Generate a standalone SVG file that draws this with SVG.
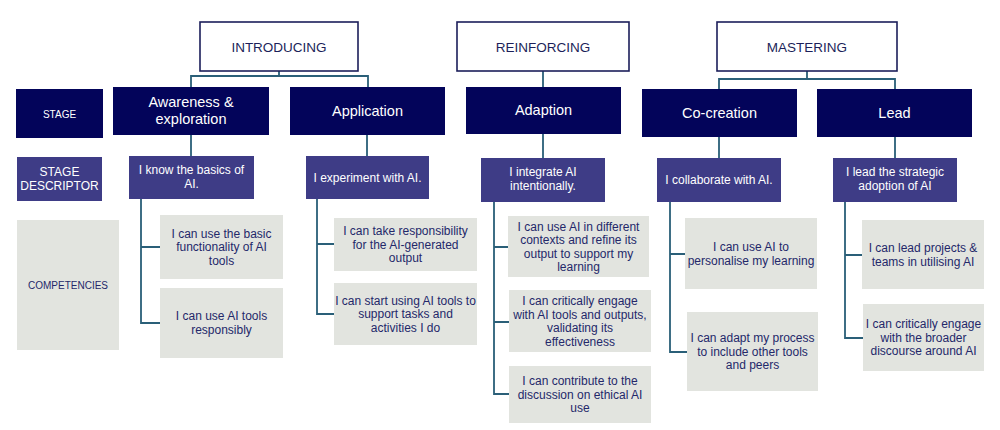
<svg xmlns="http://www.w3.org/2000/svg" width="1000" height="430" viewBox="0 0 1000 430">
<style>
text{font-family:"Liberation Sans",Arial,sans-serif;text-anchor:middle}
.hdr rect{fill:#fff;stroke:#1c1f5a;stroke-width:1.6}
.hdr text{font-size:13.5px;fill:#1c1f5a}
.stg rect{fill:#03045a}
.stg text{fill:#fff;font-size:14.5px}
.lbl text{fill:#fff;font-size:10px}
.dsc rect{fill:#3e3c86}
.dsc text{fill:#fff;font-size:12px}
.cmp rect{fill:#e2e4df}
.cmp text{fill:#24286a;font-size:12px}
.side rect{fill:#e2e4df}
.side text{fill:#24286a;font-size:10px}
.conn path{fill:none;stroke:#2a5f78;stroke-width:1.8}
</style>
<rect width="1000" height="430" fill="#fff"/>
<g class="conn" id="connectors">
<path d="M279 71V76M191 87V76H368V87"/>
<path d="M543 71V87"/>
<path d="M807 71V79M719 89V79H895V89"/>
<path d="M191 135V156M367 135V156M543 134V158M719 137V158M895 137V158"/>
<path d="M141 199V323H160M141 247H160"/>
<path d="M317 199V314H334M317 244H334"/>
<path d="M494 202V394H509M494 247H508M494 322H509"/>
<path d="M670 202V352H687M670 254H685"/>
<path d="M845 202V338H863M845 255H862"/>
</g>
<g class="hdr" id="introducing"><rect x="200" y="22" width="158" height="49"/><text x="279" y="51.5">INTRODUCING</text></g>
<g class="hdr" id="reinforcing"><rect x="457" y="22" width="172" height="49"/><text x="543" y="51.5">REINFORCING</text></g>
<g class="hdr" id="mastering"><rect x="717" y="22" width="180" height="49"/><text x="807" y="51.5">MASTERING</text></g>

<g class="stg lbl" id="stage-label"><rect x="16" y="89" width="87" height="49"/><text x="59.5" y="117.5">STAGE</text></g>
<g class="lbl dsc" id="descriptor-label"><rect x="17" y="157" width="85" height="44"/><text x="59.5" y="176">STAGE</text><text x="59.5" y="189.5">DESCRIPTOR</text></g>
<g class="side" id="competencies-label"><rect x="17" y="220" width="102" height="130"/><text x="68" y="288.5">COMPETENCIES</text></g>

<g class="stg" id="awareness"><rect x="113" y="87" width="156" height="48"/><text x="191" y="107">Awareness &amp;</text><text x="191" y="123.5">exploration</text></g>
<g class="stg" id="application"><rect x="290" y="87" width="155" height="48"/><text x="367.5" y="115.5">Application</text></g>
<g class="stg" id="adaption"><rect x="466" y="87" width="155" height="47"/><text x="543.5" y="115">Adaption</text></g>
<g class="stg" id="co-creation"><rect x="642" y="89" width="155" height="48"/><text x="719.5" y="117.5">Co-creation</text></g>
<g class="stg" id="lead"><rect x="817" y="89" width="155" height="48"/><text x="894.5" y="117.5">Lead</text></g>

<g class="dsc" id="d-know"><rect x="129" y="156" width="125" height="43"/><text x="191.5" y="174">I know the basics of</text><text x="191.5" y="188">AI.</text></g>
<g class="dsc" id="d-experiment"><rect x="306" y="156" width="123" height="43"/><text x="367.5" y="181.5">I experiment with AI.</text></g>
<g class="dsc" id="d-integrate"><rect x="481" y="158" width="124" height="44"/><text x="543" y="176">I integrate AI</text><text x="543" y="190">intentionally.</text></g>
<g class="dsc" id="d-collaborate"><rect x="657" y="158" width="124" height="44"/><text x="719" y="183.5">I collaborate with AI.</text></g>
<g class="dsc" id="d-strategic"><rect x="833" y="158" width="124" height="44"/><text x="895" y="176">I lead the strategic</text><text x="895" y="190">adoption of AI</text></g>

<g class="cmp" id="c-intro-1"><rect x="160" y="215" width="123" height="64"/><text x="221.5" y="237.5">I can use the basic</text><text x="221.5" y="251">functionality of AI</text><text x="221.5" y="264.5">tools</text></g>
<g class="cmp" id="c-intro-2"><rect x="160" y="288" width="123" height="70"/><text x="221.5" y="320">I can use AI tools</text><text x="221.5" y="333.5">responsibly</text></g>

<g class="cmp" id="c-app-1"><rect x="334" y="218" width="143" height="53"/><text x="405.5" y="235">I can take responsibility</text><text x="405.5" y="248.5">for the AI-generated</text><text x="405.5" y="262">output</text></g>
<g class="cmp" id="c-app-2"><rect x="334" y="283" width="143" height="62"/><text x="405.5" y="304.5">I can start using AI tools to</text><text x="405.5" y="318">support tasks and</text><text x="405.5" y="331.5">activities I do</text></g>

<g class="cmp" id="c-adapt-1"><rect x="508" y="216" width="141" height="61"/><text x="578.5" y="230.5">I can use AI in different</text><text x="578.5" y="244">contexts and refine its</text><text x="578.5" y="257.5">output to support my</text><text x="578.5" y="271">learning</text></g>
<g class="cmp" id="c-adapt-2"><rect x="509" y="290" width="142" height="62"/><text x="580" y="305">I can critically engage</text><text x="580" y="318.5">with AI tools and outputs,</text><text x="580" y="332">validating its</text><text x="580" y="345.5">effectiveness</text></g>
<g class="cmp" id="c-adapt-3"><rect x="509" y="366" width="142" height="57"/><text x="580" y="385">I can contribute to the</text><text x="580" y="398.5">discussion on ethical AI</text><text x="580" y="412">use</text></g>

<g class="cmp" id="c-co-1"><rect x="685" y="218" width="132" height="71"/><text x="751" y="251">I can use AI to</text><text x="751" y="264.5">personalise my learning</text></g>
<g class="cmp" id="c-co-2"><rect x="687" y="312" width="131" height="79"/><text x="752.5" y="342">I can adapt my process</text><text x="752.5" y="355.5">to include other tools</text><text x="752.5" y="369">and peers</text></g>

<g class="cmp" id="c-lead-1"><rect x="862" y="220" width="122" height="69"/><text x="923" y="252">I can lead projects &amp;</text><text x="923" y="265.5">teams in utilising AI</text></g>
<g class="cmp" id="c-lead-2"><rect x="863" y="304" width="121" height="67"/><text x="923.5" y="328">I can critically engage</text><text x="923.5" y="341.5">with the broader</text><text x="923.5" y="355">discourse around AI</text></g>
</svg>
